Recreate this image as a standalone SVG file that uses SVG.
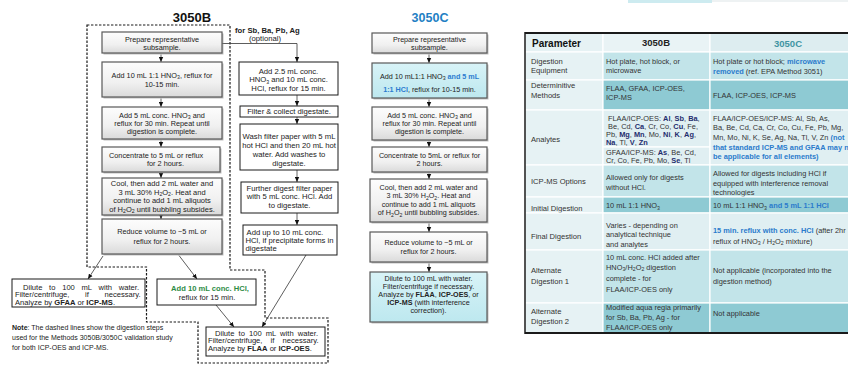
<svg xmlns="http://www.w3.org/2000/svg" width="848" height="367" viewBox="0 0 848 367">
<defs>
<style>
.t{font-family:"Liberation Sans",Arial,sans-serif;font-size:7.3px;fill:#222}
.c{text-anchor:middle}
.b{font-weight:bold}
.s{font-size:5.2px}
.m{font-size:7.7px}
.k{font-size:7.2px}
.f8{font-size:7.5px}
.n7{font-size:7.6px}
.g{font-weight:bold;fill:#2e8b45}
.u{font-weight:bold;fill:#2b7bd0}
.sh{fill:#8a8a8a;opacity:.55}
.gb{fill:url(#gg);stroke:#595959;stroke-width:1.2}
.cb{fill:url(#cg);stroke:#595959;stroke-width:1.2}
.wb{fill:#fff;stroke:#1a1a1a;stroke-width:1}
.ar{fill:none;stroke:#666;stroke-width:1;marker-end:url(#ah)}
.ln{fill:none;stroke:#333;stroke-width:.8;marker-end:url(#ah)}
.dl{fill:none;stroke:#1a1a1a;stroke-width:1.2;stroke-dasharray:2.4 1.6}
.tt{font-family:"Liberation Sans",Arial,sans-serif;font-size:7.4px;fill:#333}
.tl{font-size:7.6px}
.nv{font-weight:bold;fill:#1f2d6e}
.bl{font-weight:bold;fill:#2b7bcc}
.cell{stroke:#fff;stroke-width:1.2}
.c1{fill:#E6F2F4}
.lt{fill:#E0EFF2}
.md{fill:#C2E4E9}
.dk{fill:#8ECAD3}
</style>
<linearGradient id="gg" x1="0" y1="0" x2="0" y2="1"><stop offset="0" stop-color="#FDFDFD"/><stop offset="0.6" stop-color="#F0F0F0"/><stop offset="1" stop-color="#DADADA"/></linearGradient>
<linearGradient id="cg" x1="0" y1="0" x2="0" y2="1"><stop offset="0" stop-color="#D8F3F7"/><stop offset="1" stop-color="#BDE8EF"/></linearGradient>
<marker id="ah" viewBox="0 0 8 8" refX="8" refY="4" markerWidth="5" markerHeight="5" markerUnits="userSpaceOnUse" orient="auto"><path d="M0,0.5L8,4L0,7.5z" fill="#111"/></marker>
</defs>
<rect width="848" height="367" fill="#fff"/>
<rect x="628" y="0" width="84" height="3" fill="#CDEBF0"/>
<rect x="712" y="0" width="136" height="2" fill="#EEF2F3"/>

<text class="t b" x="192" y="22" text-anchor="middle" style="font-size:13px;fill:#111">3050B</text>
<text class="t b" x="430" y="22" text-anchor="middle" style="font-size:12.5px;fill:#1f7fc4">3050C</text>

<polygon class="dl" points="87,25 230,25 230,270 265,270 265,318 328,318 328,363 198,363 198,322 146.5,322 146.5,267 87,267"/>

<g id="connectors">
<path class="ar" d="M161,54.5V62"/>
<path class="ar" d="M161,98.5V107"/>
<path class="ar" d="M161,140.5V147"/>
<path class="ar" d="M161,173.5V178"/>
<path class="ar" d="M161,216.3V219"/>
<path class="ln" d="M222,43.5H297V62"/>
<path class="ar" d="M297,95V106"/>
<path class="ar" d="M297,117V124"/>
<path class="ar" d="M297,170V182"/>
<path class="ar" d="M297,213V225"/>
<path class="ar" d="M429,54.5V63"/>
<path class="ar" d="M429,99.5V107"/>
<path class="ar" d="M429,141.5V147"/>
<path class="ar" d="M429,173.5V179"/>
<path class="ar" d="M429,223.5V232"/>
<path class="ar" d="M429,263.5V272"/>
<path class="ln" d="M103,256L88,279"/>
<path class="ln" d="M179,255.5L197,279"/>
<path class="ln" d="M216,305L234,327"/>
<path class="ln" d="M306,255L262,327"/>
</g>

<g id="b1"><rect class="sh" x="103.5" y="33.5" width="120" height="21"/><rect class="gb" x="102" y="32" width="120" height="21"/>
<text class="t c" x="162" y="42.3">Prepare representative</text><text class="t c" x="162" y="50.3">subsample.</text></g>
<g id="b2"><rect class="sh" x="103.5" y="63.5" width="120" height="35"/><rect class="gb" x="102" y="62" width="120" height="35"/>
<text class="t c" x="162" y="77.5">Add 10 mL 1:1 HNO<tspan class="s" dy="1.5">3</tspan><tspan dy="-1.5">, reflux for</tspan></text><text class="t c" x="162" y="86.5">10-15 min.</text></g>
<g id="b3"><rect class="sh" x="103.5" y="108.5" width="120" height="32"/><rect class="gb" x="102" y="107" width="120" height="32"/>
<text class="t c" x="162" y="117.5">Add 5 mL conc. HNO<tspan class="s" dy="1.5">3</tspan><tspan dy="-1.5"> and</tspan></text><text class="t c" x="162" y="125.7">reflux for 30 min. Repeat until</text><text class="t c" x="162" y="134">digestion is complete.</text></g>
<g id="b4"><rect class="sh" x="103.5" y="148.5" width="118" height="25"/><rect class="gb" x="102" y="147" width="118" height="25"/>
<text class="t" x="109" y="157.5">Concentrate to 5 mL or reflux</text><text class="t" x="147" y="166">for 2 hours.</text></g>
<g id="b5"><rect class="sh" x="103.5" y="179.5" width="120" height="37"/><rect class="gb" x="102" y="178" width="120" height="37"/>
<text class="t c f8" x="162" y="186.4">Cool, then add 2 mL water and</text>
<text class="t c f8" x="162" y="194.9">3 mL 30% H<tspan class="s" dy="1.3">2</tspan><tspan dy="-1.3">O</tspan><tspan class="s" dy="1.3">2</tspan><tspan dy="-1.3">. Heat and</tspan></text>
<text class="t c f8" x="162" y="203.4">continue to add 1 mL aliquots</text>
<text class="t c f8" x="162" y="211.9">of H<tspan class="s" dy="1.3">2</tspan><tspan dy="-1.3">O</tspan><tspan class="s" dy="1.3">2</tspan><tspan dy="-1.3"> until bubbling subsides.</tspan></text></g>
<g id="b6"><rect class="sh" x="103.5" y="220.5" width="120" height="35"/><rect class="gb" x="102" y="219" width="120" height="35"/>
<text class="t c" x="162" y="234.4">Reduce volume to ~5 mL or</text><text class="t c" x="162" y="243.7">reflux for 2 hours.</text></g>

<g id="gfaa"><rect class="wb" x="12" y="279" width="133" height="28"/>
<text class="t n7" x="23" y="289.5" word-spacing="4.6">Dilute to 100 mL with water.</text>
<text class="t n7" x="15" y="297" word-spacing="13.5">Filter/centrifuge, if necessary.</text>
<text class="t n7" x="15" y="304.5">Analyze by <tspan class="b">GFAA</tspan> or <tspan class="b">ICP-MS</tspan>.</text></g>

<g id="hcl"><rect class="wb" x="157" y="279" width="99" height="26"/>
<text class="t n7 c" x="210" y="291"><tspan class="g">Add 10 mL conc. HCl,</tspan></text>
<text class="t n7 c" x="207" y="299.5">reflux for 15 min.</text></g>

<g id="flaa"><rect class="wb" x="206" y="327" width="119" height="29"/>
<text class="t n7" x="215" y="335.5" word-spacing="2">Dilute to 100 mL with water.</text>
<text class="t n7" x="208" y="343.3" word-spacing="6">Filter/centrifuge, if necessary.</text>
<text class="t n7" x="208" y="351">Analyze by <tspan class="b">FLAA</tspan> or <tspan class="b">ICP-OES</tspan>.</text></g>

<g id="note"><text class="t" style="font-size:7px" x="12" y="329.5"><tspan class="b">Note</tspan>: The dashed lines show the digestion steps</text>
<text class="t" style="font-size:7px" x="12" y="339.5">used for the Methods 3050B/3050C validation study</text>
<text class="t" style="font-size:7px" x="12" y="349.5">for both ICP-OES and ICP-MS.</text></g>

<g id="optional"><text class="t b m" x="235" y="32.5">for Sb, Ba, Pb, Ag</text><text class="t m c" x="265" y="40.5">(optional)</text></g>
<g id="m1"><rect class="wb" x="239" y="62" width="99" height="33"/>
<text class="t m c" x="288.5" y="73.5">Add 2.5 mL conc.</text>
<text class="t m c" x="288.5" y="82">HNO<tspan class="s" dy="1.5">3</tspan><tspan dy="-1.5"> and 10 mL conc.</tspan></text>
<text class="t m c" x="288.5" y="90.5">HCl,  reflux for 15 min.</text></g>
<g id="m2"><rect class="wb" x="240" y="106" width="98" height="11"/><text class="t m c" x="289" y="114.3">Filter &amp; collect digestate.</text></g>
<g id="m3"><rect class="wb" x="240" y="124" width="98" height="46"/>
<text class="t m c" x="289" y="139.4">Wash filter paper with 5 mL</text>
<text class="t m c" x="289" y="148.2">hot HCl and then 20 mL hot</text>
<text class="t m c" x="289" y="157">water. Add washes to</text>
<text class="t m c" x="289" y="165.8">digestate.</text></g>
<g id="m4"><rect class="wb" x="241" y="182" width="97" height="31"/>
<text class="t m c" x="289.5" y="190.5">Further digest filter paper</text>
<text class="t m c" x="289.5" y="199.3">with 5 mL conc. HCl. Add</text>
<text class="t m c" x="289.5" y="207.8">to digestate.</text></g>
<g id="m5"><rect class="wb" x="243" y="225" width="94" height="30"/>
<text class="t m" x="246.5" y="234.5">Add up to 10 mL conc.</text>
<text class="t m" x="245.5" y="242.7">HCl, if precipitate forms in</text>
<text class="t m" x="245.5" y="250.8">digestate</text></g>

<g id="c1"><rect class="sh" x="373.5" y="34.5" width="115" height="20"/><rect class="gb" x="372" y="33" width="115" height="20"/>
<text class="t k c" x="429.5" y="42.3">Prepare representative</text><text class="t k c" x="429.5" y="50">subsample.</text></g>
<g id="c2"><rect class="sh" x="373.5" y="64.5" width="115" height="35"/><rect class="cb" x="372" y="63" width="115" height="35"/>
<text class="t k c" x="429.5" y="78.5">Add 10 mL1:1 HNO<tspan class="s" dy="1.5">3</tspan><tspan dy="-1.5"> </tspan><tspan class="u">and 5 mL</tspan></text>
<text class="t k c" x="429.5" y="91.5"><tspan class="u">1:1 HCl</tspan>, reflux for 10-15 min.</text></g>
<g id="c3"><rect class="sh" x="373.5" y="108.5" width="115" height="33"/><rect class="gb" x="372" y="107" width="115" height="33"/>
<text class="t k c" x="429.5" y="117.5">Add 5 mL conc. HNO<tspan class="s" dy="1.5">3</tspan><tspan dy="-1.5"> and</tspan></text>
<text class="t k c" x="429.5" y="125.8">reflux for 30 min. Repeat until</text>
<text class="t k c" x="429.5" y="134.3">digestion is complete.</text></g>
<g id="c4"><rect class="sh" x="373.5" y="148.5" width="115" height="25"/><rect class="gb" x="372" y="147" width="115" height="25"/>
<text class="t k c" x="429.5" y="157.5">Concentrate to 5mL or reflux for</text><text class="t k c" x="429.5" y="166">2 hours.</text></g>
<g id="c5"><rect class="sh" x="371.5" y="180.5" width="117" height="43"/><rect class="gb" x="370" y="179" width="117" height="43"/>
<text class="t k c" x="428.5" y="189.5">Cool, then add 2 mL water and</text>
<text class="t k c" x="428.5" y="198">3 mL 30% H<tspan class="s" dy="1.5">2</tspan><tspan dy="-1.5">O</tspan><tspan class="s" dy="1.5">2</tspan><tspan dy="-1.5">. Heat and</tspan></text>
<text class="t k c" x="428.5" y="206.5">continue to add 1 mL aliquots</text>
<text class="t k c" x="428.5" y="215">of H<tspan class="s" dy="1.5">2</tspan><tspan dy="-1.5">O</tspan><tspan class="s" dy="1.5">2</tspan><tspan dy="-1.5"> until bubbling subsides.</tspan></text></g>
<g id="c6"><rect class="sh" x="371.5" y="233.5" width="117" height="30"/><rect class="gb" x="370" y="232" width="117" height="30"/>
<text class="t k c" x="428.5" y="244.5">Reduce volume to ~5 mL or</text><text class="t k c" x="428.5" y="253.5">reflux for 2 hours.</text></g>
<g id="c7"><rect class="sh" x="371.5" y="273.5" width="117" height="50"/><rect class="cb" x="370" y="272" width="117" height="50"/>
<text class="t k c" x="428.5" y="280.5">Dilute to 100 mL with water.</text>
<text class="t k c" x="428.5" y="288.5">Filter/centrifuge if necessary.</text>
<text class="t k c" x="428.5" y="296.5">Analyze by <tspan class="b">FLAA</tspan>, <tspan class="b">ICP-OES</tspan>, or</text>
<text class="t k c" x="428.5" y="304.5"><tspan class="b">ICP-MS</tspan> (with interference</text>
<text class="t k c" x="428.5" y="312.5">correction).</text></g>

<g id="table">
<g id="r0"><rect class="cell c1" x="525" y="33" width="78" height="19"/><rect class="cell" fill="#E9F3F5" x="603" y="33" width="107" height="19"/><rect class="cell" fill="#DDEDF0" x="710" y="33" width="140" height="19"/>
<text class="tt b" style="font-size:10px;fill:#111" x="532" y="47">Parameter</text>
<text class="tt b c" style="font-size:9.5px;fill:#222" x="656" y="45.5">3050B</text>
<text class="tt b c" style="font-size:9.5px;fill:#3f95a3" x="788" y="47">3050C</text></g>
<g id="r1"><rect class="cell c1" x="525" y="52" width="78" height="28"/><rect class="cell md" x="603" y="52" width="107" height="28"/><rect class="cell md" x="710" y="52" width="140" height="28"/>
<text class="tt tl" x="531" y="63.6">Digestion</text><text class="tt tl" x="531" y="72.6">Equipment</text>
<text class="tt" x="606" y="63.6">Hot plate, hot block, or</text><text class="tt" x="606" y="73.4">microwave</text>
<text class="tt" x="713" y="64.3">Hot plate or hot block; <tspan class="bl">microwave</tspan></text><text class="tt" x="713" y="74.3"><tspan class="bl">removed</tspan> (ref. EPA Method 3051)</text></g>
<g id="r2"><rect class="cell c1" x="525" y="80" width="78" height="30"/><rect class="cell dk" x="603" y="80" width="107" height="30"/><rect class="cell dk" x="710" y="80" width="140" height="30"/>
<text class="tt tl" x="531" y="87.6">Determinitive</text><text class="tt tl" x="531" y="98">Methods</text>
<text class="tt" x="606" y="91">FLAA, GFAA, ICP-OES,</text><text class="tt" x="606" y="100.2">ICP-MS</text>
<text class="tt" x="713" y="98.3">FLAA, ICP-OES, ICP-MS</text></g>
<g id="r3"><rect class="cell c1" x="525" y="110" width="78" height="55"/><rect class="cell lt" x="603" y="110" width="107" height="37"/><rect class="cell lt" x="603" y="147" width="107" height="18"/><rect class="cell lt" x="710" y="110" width="140" height="55"/>
<text class="tt tl" x="531" y="141.6">Analytes</text>
<text class="tt" x="608" y="120.5">FLAA/ICP-OES: <tspan class="nv">Al</tspan>, <tspan class="nv">Sb</tspan>, <tspan class="nv">Ba</tspan>,</text>
<text class="tt" x="608" y="128.6">Be, Cd, <tspan class="nv">Ca</tspan>, Cr, Co, <tspan class="nv">Cu</tspan>, Fe,</text>
<text class="tt" x="606" y="136.6">Pb, <tspan class="nv">Mg</tspan>, <tspan class="nv">Mn</tspan>, Mo, <tspan class="nv">Ni</tspan>, <tspan class="nv">K</tspan>, <tspan class="nv">Ag</tspan>,</text>
<text class="tt" x="606" y="144.5"><tspan class="nv">Na</tspan>, Tl, <tspan class="nv">V</tspan>, <tspan class="nv">Zn</tspan></text>
<text class="tt" x="606" y="154.8">GFAA/ICP-MS: <tspan class="nv">As</tspan>, Be, Cd,</text>
<text class="tt" x="606" y="162.6">Cr, Co, Fe, Pb, Mo, <tspan class="nv">Se</tspan>, Tl</text>
<text class="tt" x="713" y="120.8">FLAA/ICP-OES/ICP-MS: Al, Sb, As,</text>
<text class="tt" x="713" y="130.4">Ba, Be, Cd, Ca, Cr, Co, Cu, Fe, Pb, Mg,</text>
<text class="tt" x="713" y="140">Mn, Mo, Ni, K, Se, Ag, Na, Tl, V, Zn <tspan class="bl">(not</tspan></text>
<text class="tt bl" x="713" y="149.6">that standard ICP-MS and GFAA may n</text>
<text class="tt bl" x="713" y="159.2">be  applicable for all elements)</text></g>
<g id="r4"><rect class="cell c1" x="525" y="165" width="78" height="32"/><rect class="cell md" x="603" y="165" width="107" height="32"/><rect class="cell md" x="710" y="165" width="140" height="32"/>
<text class="tt tl" x="531" y="184.3">ICP-MS Options</text>
<text class="tt" x="606" y="180.3">Allowed only for digests</text><text class="tt" x="606" y="189.5">without HCl.</text>
<text class="tt" x="713" y="176">Allowed for digests including HCl if</text><text class="tt" x="713" y="186">equipped with interference removal</text><text class="tt" x="713" y="195.3">technologies</text></g>
<g id="r5"><rect class="cell c1" x="525" y="197" width="78" height="16"/><rect class="cell dk" x="603" y="197" width="107" height="16"/><rect class="cell dk" x="710" y="197" width="140" height="16"/>
<text class="tt tl" x="531" y="211">Initial Digestion</text>
<text class="tt" x="606" y="208">10 mL 1:1 HNO<tspan class="s" dy="1.5">3</tspan></text>
<text class="tt" x="713" y="208">10 mL 1:1 HNO<tspan class="s" dy="1.5">3</tspan><tspan dy="-1.5"> </tspan><tspan class="bl">and 5 mL 1:1 HCl</tspan></text></g>
<g id="r6"><rect class="cell c1" x="525" y="213" width="78" height="37"/><rect class="cell lt" x="603" y="213" width="107" height="37"/><rect class="cell lt" x="710" y="213" width="140" height="37"/>
<text class="tt tl" x="531" y="239.3">Final Digestion</text>
<text class="tt" x="606" y="227.6">Varies - depending on</text><text class="tt" x="606" y="237">analytical technique</text><text class="tt" x="606" y="246.8">and analytes</text>
<text class="tt" x="713" y="232.6"><tspan class="bl">15 min. reflux with conc. HCl</tspan> (after 2hr</text>
<text class="tt" x="713" y="243.6">reflux of HNO<tspan class="s" dy="1.2">3</tspan><tspan dy="-1.2"> / H</tspan><tspan class="s" dy="1.2">2</tspan><tspan dy="-1.2">O</tspan><tspan class="s" dy="1.2">2</tspan><tspan dy="-1.2"> mixture)</tspan></text></g>
<g id="r7"><rect class="cell c1" x="525" y="250" width="78" height="53"/><rect class="cell md" x="603" y="250" width="107" height="53"/><rect class="cell md" x="710" y="250" width="140" height="53"/>
<text class="tt tl" x="531" y="273.3">Alternate</text><text class="tt tl" x="531" y="284.3">Digestion 1</text>
<text class="tt" x="606" y="259.5">10 mL conc. HCl added after</text>
<text class="tt" x="606" y="269.5">HNO<tspan class="s" dy="1.2">3</tspan><tspan dy="-1.2">/H</tspan><tspan class="s" dy="1.2">2</tspan><tspan dy="-1.2">O</tspan><tspan class="s" dy="1.2">2</tspan><tspan dy="-1.2"> digestion</tspan></text>
<text class="tt" x="606" y="280.8">complete - for</text>
<text class="tt" x="606" y="291.8">FLAA/ICP-OES only</text>
<text class="tt" x="713" y="273.3">Not applicable (incorporated into the</text><text class="tt" x="713" y="284.3">digestion method)</text></g>
<g id="r8"><rect class="cell c1" x="525" y="303" width="78" height="30"/><rect class="cell dk" x="603" y="303" width="107" height="30"/><rect class="cell dk" x="710" y="303" width="140" height="30"/>
<text class="tt tl" x="531" y="314.3">Alternate</text><text class="tt tl" x="531" y="324.3">Digestion 2</text>
<text class="tt" x="606" y="310">Modified aqua regia primarily</text>
<text class="tt" x="606" y="320">for Sb, Ba, Pb, Ag - for</text>
<text class="tt" x="606" y="330">FLAA/ICP-OES only</text>
<text class="tt" x="713" y="316">Not applicable</text></g>
<path d="M525,33H848" stroke="#1a1a1a" stroke-width="2" fill="none"/>
<path d="M525,32V334" stroke="#1a1a1a" stroke-width="1.5" fill="none"/>
<path d="M525,333H848" stroke="#1a1a1a" stroke-width="2" fill="none"/>
</g>
</svg>
